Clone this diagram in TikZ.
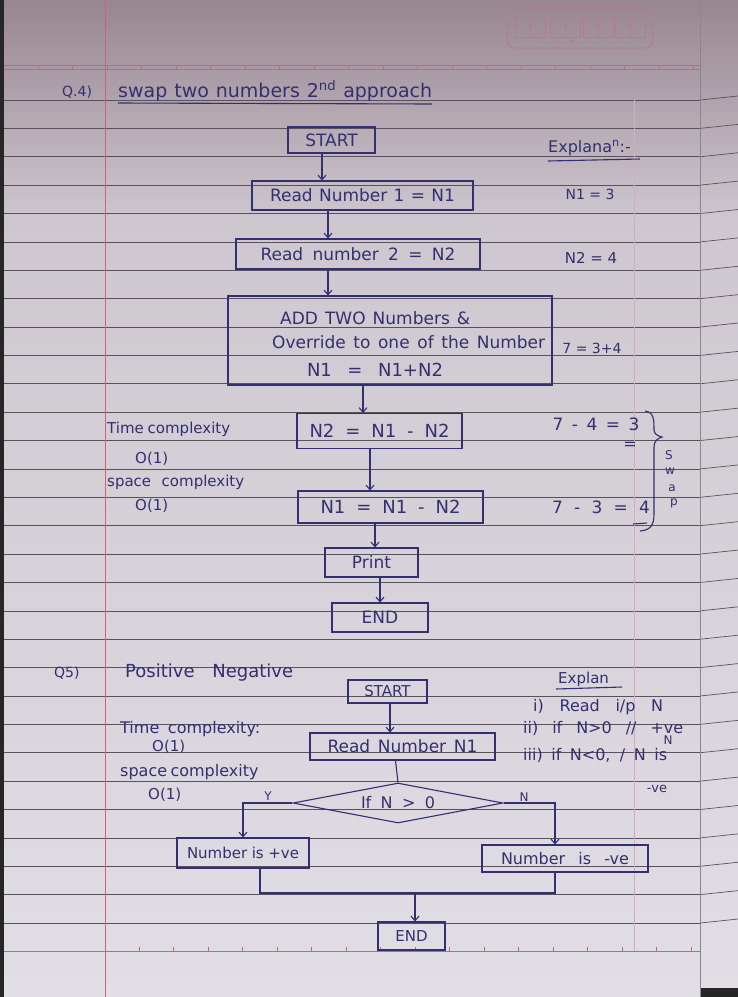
\documentclass[tikz,border=0pt]{standalone}
\usepackage{fontspec}
\newfontfamily\hand{DejaVu Sans}
\usetikzlibrary{arrows.meta,shapes.geometric,calc}
\definecolor{ink}{RGB}{50,48,112}
\definecolor{ruleline}{RGB}{88,82,94}
\definecolor{margin}{RGB}{206,98,120}
\definecolor{papertop}{RGB}{152,134,145}
\definecolor{papermid}{RGB}{206,199,207}
\definecolor{paperbot}{RGB}{226,222,229}
\definecolor{faintpink}{RGB}{185,120,140}
\definecolor{paleline}{RGB}{212,172,188}
% spread a line of handwriting to a given width
\newcommand{\fitw}[2]{\makebox[#1][s]{#2}}

\begin{document}
\begin{tikzpicture}[x=1pt,y=-1pt,
  txt/.style={font=\hand\fontsize{#1}{#1}\selectfont, text=ink, inner sep=0pt},
  txt/.default=15,
  box/.style={draw=ink, line width=1.1pt, font=\hand\fontsize{17}{19}\selectfont, text=ink, inner sep=0pt},
  arr/.style={draw=ink, line width=1.1pt, -{Straight Barb[length=4.5pt,width=8pt]}},
  wire/.style={draw=ink, line width=1.1pt},
  rl/.style={draw=ruleline, line width=0.7pt},
  ml/.style={draw=margin, line width=1pt},
]
\useasboundingbox (0,0) rectangle (738,997);

% ---------- paper ----------
\shade[top color=papertop, bottom color=papermid] (0,0) rectangle (738,220);
\shade[top color=papermid, bottom color=paperbot] (0,220) rectangle (738,997);
\fill[black!85] (0,0) rectangle (4,997);
\fill[black!85] (700,988) rectangle (738,997);

% ruled lines
\foreach \k in {0,...,29}{
  \draw[rl] (4,{100+28.38*\k}) -- (700,{100+28.38*\k});
  \draw[rl] (700,{100+28.38*\k}) -- (738,{96+28.38*\k});
}
% page edge on the right
\draw[draw=ruleline!70, line width=0.8pt] (700,0) -- (700,997);

% header and footer red lines
\draw[ml] (4,65) -- (700,65);
\draw[ml] (4,69) -- (700,69);
\foreach \k in {0,...,19}{ \draw[margin, line width=0.6pt] ({38+34.5*\k},65) -- ({38+34.5*\k},69); }
\draw[ml] (4,951) -- (700,951);
\foreach \k in {0,...,16}{ \draw[margin, line width=0.6pt] ({139+34.5*\k},951) -- ({139+34.5*\k},947); }
% margin lines
\draw[ml] (105,0) -- (105,997);
\draw[draw=paleline, line width=0.7pt] (634,100) -- (634,951);

% date box
\draw[faintpink, line width=0.8pt, rounded corners=8pt] (507,9) rectangle (653,48);
\foreach \x in {515,530,550,565,583,598,615,630}{ \draw[faintpink, line width=0.7pt] (\x,17) rectangle ++(15,20); }
\foreach \x/\l in {522/D,537/D,557/M,572/M,590/Y,605/Y,622/Y,637/Y}{ \node[font=\sffamily\fontsize{4}{4}\selectfont, text=faintpink] (d\x) at (\x,42) {\l}; }

% ---------- Question 4 ----------
\node[txt=14, anchor=west] (q4) at (62,92) {Q.4)};
\node[txt=19, anchor=west] (title) at (118,91) {\fitw{314pt}{swap two numbers 2\textsuperscript{nd} approach}};
\draw[wire] (118,103) -- (432,104);

\node[box, minimum width=87pt, minimum height=26pt] (start1) at (331.5,140) {START};
\node[box, minimum width=221pt, minimum height=29pt] (read1) at (362.5,195.5) {\fitw{185pt}{Read Number 1 = N1}};
\node[box, minimum width=244pt, minimum height=30pt] (read2) at (358,254) {\fitw{195pt}{Read number 2 = N2}};
\node[box, minimum width=324pt, minimum height=89pt] (add) at (390,340.5) {};
\node[txt=17, anchor=west] (addA) at (280,318) {\fitw{190pt}{ADD TWO Numbers \&}};
\node[txt=17, anchor=west] (addB) at (272,342) {\fitw{273pt}{Override to one of the Number}};
\node[txt=18] (addC) at (375,370) {\fitw{136pt}{N1 = N1+N2}};
\node[box, font=\hand\fontsize{18}{20}\selectfont, minimum width=165pt, minimum height=35pt] (sub1) at (379.5,431) {\fitw{140pt}{N2 = N1 - N2}};
\node[box, font=\hand\fontsize{18}{20}\selectfont, minimum width=185pt, minimum height=32pt] (sub2) at (390.5,507) {\fitw{140pt}{N1 = N1 - N2}};
\node[box, minimum width=93pt, minimum height=29pt] (print) at (371.5,562.5) {Print};
\node[box, minimum width=96pt, minimum height=29pt] (end1) at (380,617.5) {END};

\draw[arr] ([xshift=-9.5pt]start1.south) -- ([xshift=-9.5pt]start1.south |- read1.north);
\draw[arr] ([xshift=-34.5pt]read1.south) -- ([xshift=-34.5pt]read1.south |- read2.north);
\draw[arr] ([xshift=-30pt]read2.south) -- ([xshift=-30pt]read2.south |- add.north);
\draw[arr] ([xshift=-27pt]add.south) -- ([xshift=-27pt]add.south |- sub1.north);
\draw[arr] ([xshift=-9.5pt]sub1.south) -- ([xshift=-9.5pt]sub1.south |- sub2.north);
\draw[arr] ([xshift=-15.5pt]sub2.south) -- ([xshift=-15.5pt]sub2.south |- print.north);
\draw[arr] ([xshift=8.5pt]print.south) -- ([xshift=8.5pt]print.south |- end1.north);

% complexity notes
\node[txt=15, anchor=west] (tc1) at (107,429) {\fitw{123pt}{Time complexity}};
\node[txt=15, anchor=west] (tc1v) at (135,459) {O(1)};
\node[txt=15, anchor=west] (sc1) at (107,482) {\fitw{137pt}{space complexity}};
\node[txt=15, anchor=west] (sc1v) at (135,506) {O(1)};

% explanation
\node[txt=16, anchor=west] (ex1) at (548,148) {Explana\textsuperscript{n}:-};
\draw[wire] (548,161) -- (640,159);
\node[txt=14] (e1) at (590,194) {N1 = 3};
\node[txt=15] (e2) at (591,258) {N2 = 4};
\node[txt=14] (e3) at (592,348) {7 = 3+4};
\node[txt=17] (e4) at (596,424) {\fitw{87pt}{7 - 4 = 3}};
\node[txt=16] (e5) at (630,446) {=};
\node[txt=17] (e6) at (601,507) {\fitw{98pt}{7 - 3 = 4}};
\draw[wire] (633,524) -- (647,523);
\draw[wire] (645,411) .. controls (654,412) and (654,420) .. (654,430)
  .. controls (654,434) and (658,436) .. (662,437)
  .. controls (658,438) and (654,441) .. (654,447)
  -- (654,514) .. controls (654,526) and (650,530) .. (640,531);
\node[txt=12] (sw1) at (669,455) {S};
\node[txt=12] (sw2) at (670,471) {w};
\node[txt=12] (sw3) at (672,488) {a};
\node[txt=12] (sw4) at (674,503) {p};

% ---------- Question 5 ----------
\node[txt=14, anchor=west] (q5) at (54,673) {Q5)};
\node[txt=18, anchor=west] (title2) at (125,673) {\fitw{168pt}{Positive Negative}};

\node[box, font=\hand\fontsize{15}{17}\selectfont, minimum width=79pt, minimum height=23pt] (start2) at (387.5,691.5) {START};
\node[box, minimum width=185pt, minimum height=27pt] (read3) at (402.5,746.5) {\fitw{150pt}{Read Number N1}};
\node[box, font=\hand\fontsize{16}{18}\selectfont, shape=diamond, aspect=5, minimum width=210pt, minimum height=40pt] (dec) at (398,803) {\fitw{74pt}{If N > 0}};
\node[box, font=\hand\fontsize{15}{17}\selectfont, minimum width=132pt, minimum height=30pt] (pos) at (243,853) {\fitw{112pt}{Number is +ve}};
\node[box, font=\hand\fontsize{16}{18}\selectfont, minimum width=166pt, minimum height=27pt] (neg) at (565,858.5) {\fitw{128pt}{Number is -ve}};
\node[box, font=\hand\fontsize{15}{17}\selectfont, minimum width=67pt, minimum height=28pt] (end2) at (411.5,936) {END};
\coordinate (join) at (415,893);

\draw[arr] ([xshift=2.5pt]start2.south) -- ([xshift=2.5pt]start2.south |- read3.north);
\draw[wire] ([xshift=-7pt]read3.south) -- (dec.north);
\draw[arr] (dec.west) -| (pos.north);
\draw[arr] (dec.east) -| ([xshift=-10pt]neg.north);
\draw[wire] ([xshift=17pt]pos.south) |- (join) -| ([xshift=-10pt]neg.south);
\draw[arr] (join) -- (join |- end2.north);
\node[txt=12] (ylab) at (268,796) {Y};
\node[txt=12] (nlab) at (524,797) {N};

% complexity notes
\node[txt=16, anchor=west] (tc2) at (120,729) {\fitw{140pt}{Time complexity:}};
\node[txt=15, anchor=west] (tc2v) at (152,747) {O(1)};
\node[txt=16, anchor=west] (sc2) at (120,772) {\fitw{133pt}{space complexity}};
\node[txt=15, anchor=west] (sc2v) at (148,795) {O(1)};

% explanation
\node[txt=15, anchor=west] (ex2) at (558,679) {Explan};
\draw[wire] (556,689) -- (622,687);
\node[txt=16, anchor=west] (x1) at (533,707) {\fitw{130pt}{i) Read i/p N}};
\node[txt=16, anchor=west] (x2) at (523,728) {\fitw{160pt}{ii) if N>0 // +ve}};
\node[txt=12] (x3) at (668,740) {N};
\node[txt=16, anchor=west] (x4) at (523,755) {\fitw{144pt}{iii) if N<0, / N is}};
\node[txt=13] (x5) at (657,789) {-ve};
\end{tikzpicture}
\end{document}
